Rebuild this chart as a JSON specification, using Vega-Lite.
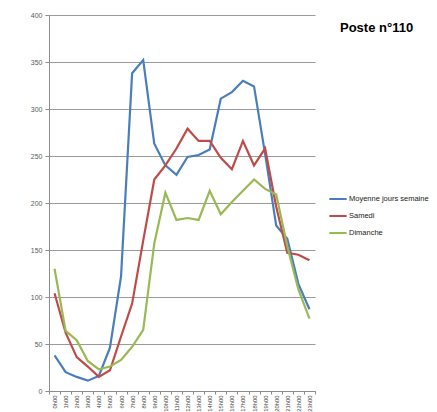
{
  "$schema": "https://vega.github.io/schema/vega-lite/v6.json",
  "width": 266,
  "height": 376,
  "autosize": {"type": "none"},
  "padding": {"left": 49, "top": 15, "right": 122, "bottom": 21},
  "background": "white",
  "title": {"text": "Poste n°110", "anchor": "start", "frame": "group", "dx": 291, "dy": 34, "baseline": "alphabetic", "font": "Liberation Sans", "fontSize": 13, "fontWeight": "bold", "color": "#000000", "offset": 0},
  "datasets": {
    "d": [
      {"heure": "0h00", "serie": "Moyenne jours semaine", "valeur": 38},
      {"heure": "1h00", "serie": "Moyenne jours semaine", "valeur": 20},
      {"heure": "2h00", "serie": "Moyenne jours semaine", "valeur": 15},
      {"heure": "3h00", "serie": "Moyenne jours semaine", "valeur": 11},
      {"heure": "4h00", "serie": "Moyenne jours semaine", "valeur": 16},
      {"heure": "5h00", "serie": "Moyenne jours semaine", "valeur": 46},
      {"heure": "6h00", "serie": "Moyenne jours semaine", "valeur": 122},
      {"heure": "7h00", "serie": "Moyenne jours semaine", "valeur": 338},
      {"heure": "8h00", "serie": "Moyenne jours semaine", "valeur": 352},
      {"heure": "9h00", "serie": "Moyenne jours semaine", "valeur": 263},
      {"heure": "10h00", "serie": "Moyenne jours semaine", "valeur": 240},
      {"heure": "11h00", "serie": "Moyenne jours semaine", "valeur": 230},
      {"heure": "12h00", "serie": "Moyenne jours semaine", "valeur": 249},
      {"heure": "13h00", "serie": "Moyenne jours semaine", "valeur": 251},
      {"heure": "14h00", "serie": "Moyenne jours semaine", "valeur": 257},
      {"heure": "15h00", "serie": "Moyenne jours semaine", "valeur": 311},
      {"heure": "16h00", "serie": "Moyenne jours semaine", "valeur": 318},
      {"heure": "17h00", "serie": "Moyenne jours semaine", "valeur": 330},
      {"heure": "18h00", "serie": "Moyenne jours semaine", "valeur": 324},
      {"heure": "19h00", "serie": "Moyenne jours semaine", "valeur": 252},
      {"heure": "20h00", "serie": "Moyenne jours semaine", "valeur": 176},
      {"heure": "21h00", "serie": "Moyenne jours semaine", "valeur": 162},
      {"heure": "22h00", "serie": "Moyenne jours semaine", "valeur": 114},
      {"heure": "23h00", "serie": "Moyenne jours semaine", "valeur": 87},
      {"heure": "0h00", "serie": "Samedi", "valeur": 104},
      {"heure": "1h00", "serie": "Samedi", "valeur": 62},
      {"heure": "2h00", "serie": "Samedi", "valeur": 36},
      {"heure": "3h00", "serie": "Samedi", "valeur": 26},
      {"heure": "4h00", "serie": "Samedi", "valeur": 15},
      {"heure": "5h00", "serie": "Samedi", "valeur": 22},
      {"heure": "6h00", "serie": "Samedi", "valeur": 58},
      {"heure": "7h00", "serie": "Samedi", "valeur": 93},
      {"heure": "8h00", "serie": "Samedi", "valeur": 160},
      {"heure": "9h00", "serie": "Samedi", "valeur": 225},
      {"heure": "10h00", "serie": "Samedi", "valeur": 240},
      {"heure": "11h00", "serie": "Samedi", "valeur": 258},
      {"heure": "12h00", "serie": "Samedi", "valeur": 279},
      {"heure": "13h00", "serie": "Samedi", "valeur": 266},
      {"heure": "14h00", "serie": "Samedi", "valeur": 266},
      {"heure": "15h00", "serie": "Samedi", "valeur": 248},
      {"heure": "16h00", "serie": "Samedi", "valeur": 236},
      {"heure": "17h00", "serie": "Samedi", "valeur": 266},
      {"heure": "18h00", "serie": "Samedi", "valeur": 240},
      {"heure": "19h00", "serie": "Samedi", "valeur": 258},
      {"heure": "20h00", "serie": "Samedi", "valeur": 196},
      {"heure": "21h00", "serie": "Samedi", "valeur": 147},
      {"heure": "22h00", "serie": "Samedi", "valeur": 145},
      {"heure": "23h00", "serie": "Samedi", "valeur": 139},
      {"heure": "0h00", "serie": "Dimanche", "valeur": 130},
      {"heure": "1h00", "serie": "Dimanche", "valeur": 64},
      {"heure": "2h00", "serie": "Dimanche", "valeur": 54},
      {"heure": "3h00", "serie": "Dimanche", "valeur": 32},
      {"heure": "4h00", "serie": "Dimanche", "valeur": 23},
      {"heure": "5h00", "serie": "Dimanche", "valeur": 26},
      {"heure": "6h00", "serie": "Dimanche", "valeur": 33},
      {"heure": "7h00", "serie": "Dimanche", "valeur": 47},
      {"heure": "8h00", "serie": "Dimanche", "valeur": 65},
      {"heure": "9h00", "serie": "Dimanche", "valeur": 157},
      {"heure": "10h00", "serie": "Dimanche", "valeur": 211},
      {"heure": "11h00", "serie": "Dimanche", "valeur": 182},
      {"heure": "12h00", "serie": "Dimanche", "valeur": 184},
      {"heure": "13h00", "serie": "Dimanche", "valeur": 182},
      {"heure": "14h00", "serie": "Dimanche", "valeur": 213},
      {"heure": "15h00", "serie": "Dimanche", "valeur": 188},
      {"heure": "16h00", "serie": "Dimanche", "valeur": 201},
      {"heure": "17h00", "serie": "Dimanche", "valeur": 213},
      {"heure": "18h00", "serie": "Dimanche", "valeur": 225},
      {"heure": "19h00", "serie": "Dimanche", "valeur": 215},
      {"heure": "20h00", "serie": "Dimanche", "valeur": 209},
      {"heure": "21h00", "serie": "Dimanche", "valeur": 154},
      {"heure": "22h00", "serie": "Dimanche", "valeur": 108},
      {"heure": "23h00", "serie": "Dimanche", "valeur": 77}
    ]
  },
  "data": {"name": "d"},
  "mark": {"type": "line", "strokeWidth": 2.2, "interpolate": "linear"},
  "encoding": {
    "x": {
      "field": "heure",
      "type": "ordinal",
      "sort": null,
      "bandPosition": 0.5,
      "scale": {"type": "band", "paddingInner": 0, "paddingOuter": 0},
      "axis": {
        "title": null,
        "labelAngle": -90,
        "labelFont": "Liberation Sans",
        "labelFontSize": 5.8,
        "labelColor": "#404040",
        "labelPadding": 1,
        "tickBand": "extent",
        "tickSize": 3,
        "tickColor": "#8c8c8c",
        "domainColor": "#8c8c8c",
        "grid": false
      }
    },
    "y": {
      "field": "valeur",
      "type": "quantitative",
      "scale": {"domain": [0, 400], "nice": false},
      "axis": {
        "title": null,
        "values": [0, 50, 100, 150, 200, 250, 300, 350, 400],
        "labelFont": "Liberation Sans",
        "labelFontSize": 7,
        "labelColor": "#595959",
        "labelPadding": 3,
        "tickSize": 4,
        "tickColor": "#8c8c8c",
        "domainColor": "#8c8c8c",
        "grid": true,
        "gridColor": "#9a9a9a",
        "gridWidth": 1
      }
    },
    "color": {
      "field": "serie",
      "type": "nominal",
      "sort": null,
      "scale": {
        "domain": ["Moyenne jours semaine", "Samedi", "Dimanche"],
        "range": ["#4A7EBB", "#BE4B48", "#98B954"]
      },
      "legend": {
        "title": null,
        "orient": "none",
        "legendX": 279,
        "legendY": 174,
        "symbolType": "stroke",
        "symbolSize": 300,
        "symbolStrokeWidth": 2,
        "labelFont": "Liberation Sans",
        "labelFontSize": 7.5,
        "labelColor": "#202020",
        "rowPadding": 3,
        "labelOffset": 1
      }
    }
  },
  "config": {"view": {"stroke": null}}
}
